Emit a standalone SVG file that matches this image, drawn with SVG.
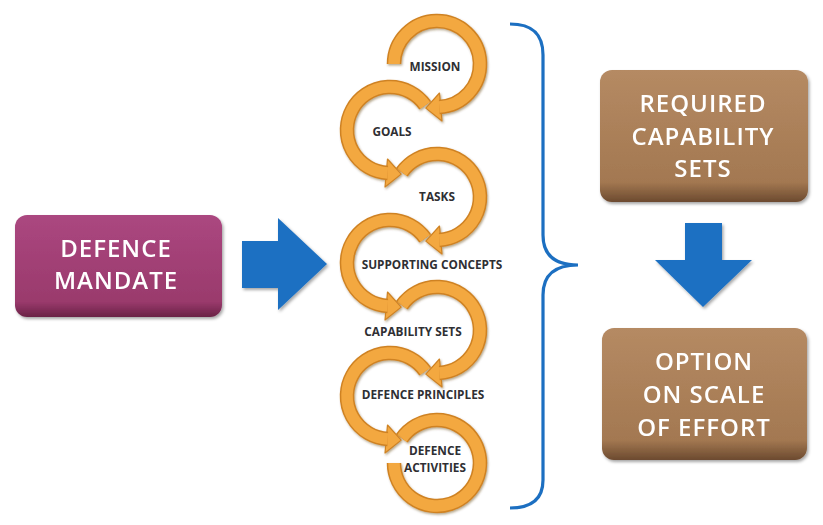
<svg xmlns="http://www.w3.org/2000/svg" width="823" height="525" viewBox="0 0 823 525">
<defs>
<linearGradient id="gMag" x1="0" y1="0" x2="0" y2="1"><stop offset="0" stop-color="#ab4780"/><stop offset="0.85" stop-color="#9a3a6c"/><stop offset="1" stop-color="#6a2246"/></linearGradient>
<linearGradient id="gBrn" x1="0" y1="0" x2="0" y2="1"><stop offset="0" stop-color="#b58a63"/><stop offset="0.85" stop-color="#a37851"/><stop offset="1" stop-color="#6c4a2f"/></linearGradient>
<filter id="sh" x="-20%" y="-20%" width="140%" height="140%"><feDropShadow dx="1.5" dy="2" stdDeviation="1.5" flood-color="#000" flood-opacity="0.35"/></filter>
<filter id="shs" x="-20%" y="-20%" width="140%" height="140%"><feDropShadow dx="1" dy="1.5" stdDeviation="1" flood-color="#5a3a10" flood-opacity="0.45"/></filter>
</defs>
<style>
.edge{fill:none;stroke:#cf8223;stroke-width:14.5}
.body{fill:none;stroke:#f3a841;stroke-width:11.5}
.head{fill:#f3a841;stroke:#cf8223;stroke-width:1.2;stroke-linejoin:round}
.lbl{font-family:"Open Sans","DejaVu Sans",sans-serif;font-weight:bold;font-size:11.8px;fill:#2f2f33;text-anchor:middle}
.big{font-family:"Open Sans","DejaVu Sans",sans-serif;font-weight:600;font-size:24px;fill:#ffffff;text-anchor:middle;letter-spacing:1px}
.blue{fill:#1c70c2}
</style>
<rect width="823" height="525" fill="#ffffff"/>

<g id="connectors">
<polygon class="blue" filter="url(#sh)" points="242,241 278,241 278,218 327,264 278,310 278,288 242,288"/>
<polygon class="blue" filter="url(#sh)" points="685,223 722,223 722,260 752,260 703,307 655,260 685,260"/>
<path d="M510,24 C530,24 543,32 543,55 L543,235 C543,255 555,265 578,265 C555,265 543,275 543,295 L543,480 C543,500 530,508 510,508" fill="none" stroke="#1c6fc1" stroke-width="3.2"/>
</g>

<g id="defence-mandate" filter="url(#sh)">
<rect x="15" y="215" width="207" height="102" rx="12" fill="url(#gMag)"/>
<text class="big" x="116" y="257">DEFENCE</text>
<text class="big" x="116" y="289">MANDATE</text>
</g>

<g id="required-capability-sets" filter="url(#sh)">
<rect x="600" y="70" width="208" height="132" rx="12" fill="url(#gBrn)"/>
<text class="big" x="703" y="112">REQUIRED</text>
<text class="big" x="703" y="145">CAPABILITY</text>
<text class="big" x="703" y="177">SETS</text>
</g>

<g id="option-on-scale-of-effort" filter="url(#sh)">
<rect x="602" y="328" width="205" height="132" rx="12" fill="url(#gBrn)"/>
<text class="big" x="704" y="370">OPTION</text>
<text class="big" x="704" y="403">ON SCALE</text>
<text class="big" x="704" y="436">OF EFFORT</text>
</g>

<g id="defence-activities">
<g filter="url(#shs)">
<path class="edge" d="M401.78,438.34 A43,43 0 1 1 394,463"/>
<path class="body" d="M401.78,438.34 A43,43 0 1 1 394,463"/>
</g>
<text class="lbl" x="435" y="455">DEFENCE</text>
<text class="lbl" x="435" y="472">ACTIVITIES</text>
</g>

<g id="defence-principles">
<g filter="url(#shs)">
<polygon class="head" points="385.00,453.00 387.50,425.00 401.20,440.10"/>
<path class="edge" d="M425.22,371.34 A43,43 0 1 0 387.75,438.94"/>
<path class="body" d="M425.22,371.34 A43,43 0 1 0 387.75,438.94"/>
</g>
<text class="lbl" x="423" y="399">DEFENCE PRINCIPLES</text>
</g>

<g id="capability-sets">
<g filter="url(#shs)">
<polygon class="head" points="442.00,387.00 439.50,359.00 425.80,374.10"/>
<path class="edge" d="M401.78,305.34 A43,43 0 1 1 439.25,372.94"/>
<path class="body" d="M401.78,305.34 A43,43 0 1 1 439.25,372.94"/>
</g>
<text class="lbl" x="413" y="336">CAPABILITY SETS</text>
</g>

<g id="supporting-concepts">
<g filter="url(#shs)">
<polygon class="head" points="385.00,320.00 387.50,292.00 401.20,307.10"/>
<path class="edge" d="M425.22,238.34 A43,43 0 1 0 387.75,305.94"/>
<path class="body" d="M425.22,238.34 A43,43 0 1 0 387.75,305.94"/>
</g>
<text class="lbl" x="432" y="269">SUPPORTING CONCEPTS</text>
</g>

<g id="tasks">
<g filter="url(#shs)">
<polygon class="head" points="442.00,254.00 439.50,226.00 425.80,241.10"/>
<path class="edge" d="M401.78,172.34 A43,43 0 1 1 439.25,239.94"/>
<path class="body" d="M401.78,172.34 A43,43 0 1 1 439.25,239.94"/>
</g>
<text class="lbl" x="437" y="201">TASKS</text>
</g>

<g id="goals">
<g filter="url(#shs)">
<polygon class="head" points="385.00,187.00 387.50,159.00 401.20,174.10"/>
<path class="edge" d="M425.22,105.34 A43,43 0 1 0 387.75,172.94"/>
<path class="body" d="M425.22,105.34 A43,43 0 1 0 387.75,172.94"/>
</g>
<text class="lbl" x="392" y="136">GOALS</text>
</g>

<g id="mission">
<g filter="url(#shs)">
<polygon class="head" points="442.00,121.00 439.50,93.00 425.80,108.10"/>
<path class="edge" d="M394,64 A43,43 0 1 1 439.25,106.94"/>
<path class="body" d="M394,64 A43,43 0 1 1 439.25,106.94"/>
</g>
<text class="lbl" x="435" y="71">MISSION</text>
</g>
</svg>
